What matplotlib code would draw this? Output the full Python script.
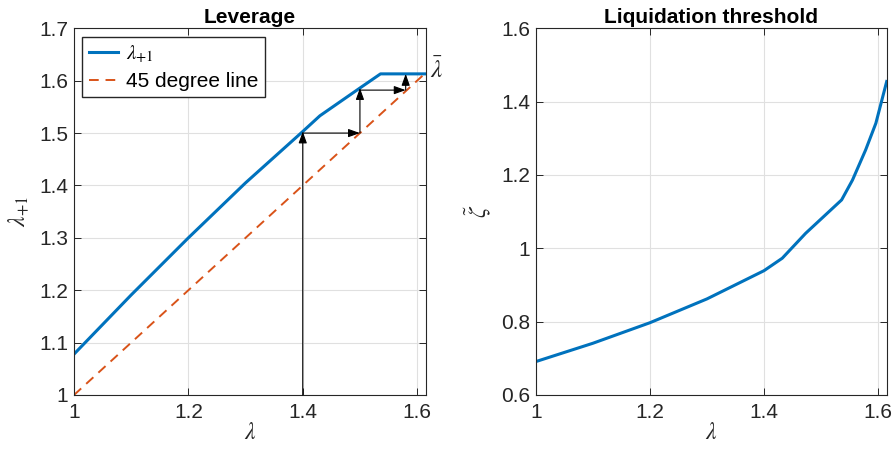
import numpy as np
import matplotlib
matplotlib.use("Agg")
import matplotlib.pyplot as plt

plt.rcParams['font.family'] = ['Liberation Sans', 'DejaVu Sans']
plt.rcParams['mathtext.fontset'] = 'stix'

lam_bar = 1.615

# leverage map lambda -> lambda_{+1}
lev_x = [1.0, 1.1, 1.2, 1.3, 1.4, 1.43, 1.5, 1.536, 1.615]
lev_y = [1.078, 1.191, 1.300, 1.405, 1.503, 1.533, 1.586, 1.613, 1.613]

# 45 degree line
diag_x = [1.0, lam_bar]
diag_y = [1.0, lam_bar]

# cobweb arrows (start, end)
arrows = [
    ((1.40, 1.00), (1.40, 1.503)),
    ((1.40, 1.50), (1.50, 1.50)),
    ((1.50, 1.50), (1.50, 1.586)),
    ((1.50, 1.582), (1.58, 1.582)),
    ((1.58, 1.582), (1.58, 1.613)),
]

# liquidation threshold
liq_x = [1.0, 1.1, 1.2, 1.3, 1.4, 1.432, 1.473, 1.536, 1.555, 1.578, 1.596, 1.615]
liq_y = [0.691, 0.741, 0.797, 0.862, 0.939, 0.973, 1.041, 1.132, 1.186, 1.268, 1.341, 1.455]

blue = (0.0, 0.447, 0.741)
red = (0.85, 0.325, 0.098)
edge = (0.15, 0.15, 0.15)

fig = plt.figure(figsize=(8.93, 4.51), dpi=100)
ax1 = fig.add_axes([74 / 893, 1 - 395 / 451, 351.7 / 893, 366.7 / 451])
ax2 = fig.add_axes([535.7 / 893, 1 - 395 / 451, 351 / 893, 366.7 / 451])


def style(ax):
    ax.grid(True, color=(0.88, 0.88, 0.88), linewidth=0.8)
    ax.set_axisbelow(True)
    ax.tick_params(direction='in', top=True, right=True, labelsize=15,
                   colors=edge, length=5, width=0.7)
    ax.tick_params(axis='x', pad=6)
    ax.tick_params(axis='y', pad=4)
    for s in ax.spines.values():
        s.set_color(edge)
        s.set_linewidth(0.8)


ax1.plot(lev_x, lev_y, color=blue, linewidth=2.2, label=r'$\lambda_{+1}$')
ax1.plot(diag_x, diag_y, '--', color=red, linewidth=1.4, dashes=(5, 3.5),
         label='45 degree line')
for (x0, y0), (x1, y1) in arrows:
    ax1.annotate('', xy=(x1, y1), xytext=(x0, y0),
                 arrowprops=dict(arrowstyle='-|>,head_length=0.7,head_width=0.25',
                                 color='black', lw=0.8,
                                 mutation_scale=10, shrinkA=0, shrinkB=0))
ax1.set_xlim(1, lam_bar)
ax1.set_ylim(1, 1.7)
ax1.set_xticks([1, 1.2, 1.4, 1.6])
ax1.set_xticklabels(['1', '1.2', '1.4', '1.6'])
ax1.set_yticks(np.arange(1.0, 1.71, 0.1))
ax1.set_yticklabels(['1', '1.1', '1.2', '1.3', '1.4', '1.5', '1.6', '1.7'])
style(ax1)
ax1.set_title('Leverage', fontsize=15, fontweight='bold', pad=4)
ax1.set_xlabel(r'$\lambda$', fontsize=17, color=edge, labelpad=0)
ax1.set_ylabel(r'$\lambda_{+1}$', fontsize=17, color=edge, labelpad=6)
ax1.text(1.012, 0.885, r'$\bar{\lambda}$', transform=ax1.transAxes,
         fontsize=18, ha='left', va='center', color=edge)
ax1.legend(loc='upper left', fontsize=15, fancybox=False, edgecolor=edge,
           framealpha=1, handlelength=1.4, handletextpad=0.4,
           borderaxespad=0.4, borderpad=0.3, labelspacing=0.35)

ax2.plot(liq_x, liq_y, color=blue, linewidth=2.2)
ax2.set_xlim(1, lam_bar)
ax2.set_ylim(0.6, 1.6)
ax2.set_xticks([1, 1.2, 1.4, 1.6])
ax2.set_xticklabels(['1', '1.2', '1.4', '1.6'])
ax2.set_yticks([0.6, 0.8, 1.0, 1.2, 1.4, 1.6])
ax2.set_yticklabels(['0.6', '0.8', '1', '1.2', '1.4', '1.6'])
style(ax2)
ax2.set_title('Liquidation threshold', fontsize=15, fontweight='bold', pad=4)
ax2.set_xlabel(r'$\lambda$', fontsize=17, color=edge, labelpad=0)
ax2.set_ylabel(r'$\tilde{\zeta}$', fontsize=17, color=edge, labelpad=6)

fig.savefig('out.png', dpi=100)
